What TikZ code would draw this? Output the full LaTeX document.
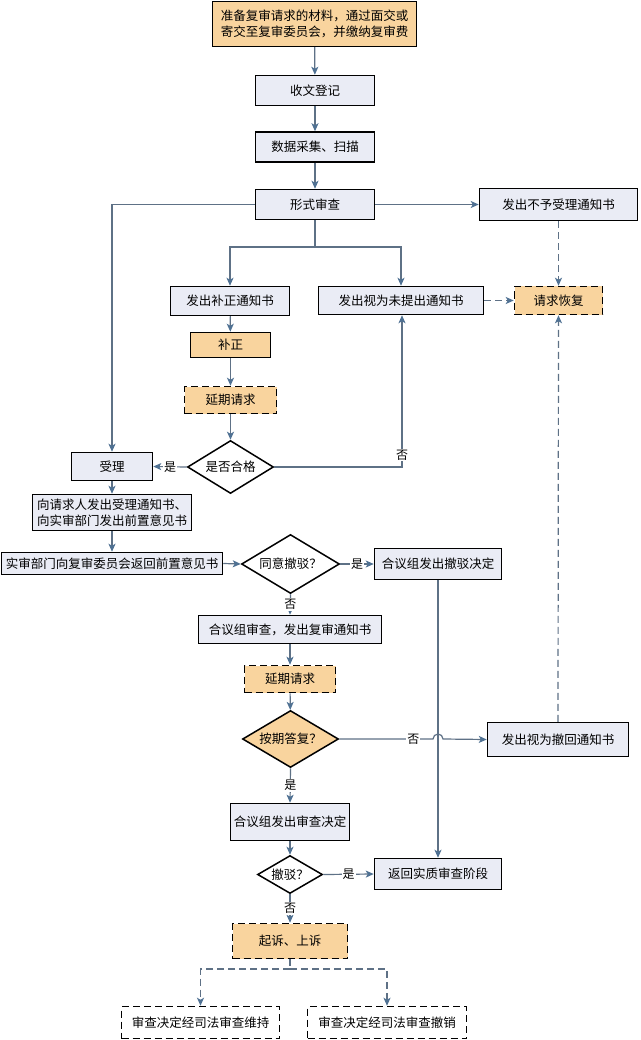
\documentclass[tikz,border=0pt]{standalone}
\usepackage{fontspec}
\setmainfont{Noto Sans CJK SC}
\usetikzlibrary{shapes.geometric,arrows.meta}
\definecolor{boxfill}{HTML}{EAECF5}
\definecolor{orfill}{HTML}{F9D49E}
\definecolor{lncol}{HTML}{5E7186}
\definecolor{tipcol}{HTML}{4F7193}
\begin{document}
\begin{tikzpicture}[x=1pt,y=-1pt,
  every node/.style={font=\fontsize{12.5}{15.5}\selectfont, inner sep=0pt},
  sz/.style 2 args={minimum width=#1pt, minimum height=#2pt},
  bx/.style={draw=black, line width=1.5pt, fill=boxfill, align=center},
  obx/.style={bx, fill=orfill},
  dbx/.style={obx, dash pattern=on 7pt off 4pt},
  wbx/.style={bx, fill=white, dash pattern=on 7pt off 4pt},
  dia/.style={shape=diamond, draw=black, line width=1.5pt, fill=white, aspect=1.6},
  odia/.style={dia, fill=orfill},
  ln/.style={draw=lncol, line width=1.2pt},
  arr/.style={ln, -{Stealth[length=8pt,width=7pt,inset=2pt,color=tipcol]}},
  darr/.style={arr, dash pattern=on 7pt off 4pt},
  dln/.style={ln, dash pattern=on 7pt off 4pt},
  lbl/.style={fill=white, inner sep=1pt, font=\fontsize{12}{14}\selectfont}
]
\fill[white] (0,0) rectangle (640,1040);
\useasboundingbox (0,0) rectangle (640,1040);

% nodes
\node[obx, sz={204}{45}] (top) at (314.5,24) {准备复审请求的材料，通过面交或\\寄交至复审委员会，并缴纳复审费};
\node[bx, sz={119}{30}] (reg) at (315,90.5) {收文登记};
\node[bx, sz={119}{30}] (scan) at (315,147) {数据采集、扫描};
\node[bx, sz={119}{30}] (form) at (315,204.5) {形式审查};
\node[bx, sz={158}{32}] (rej) at (558.5,204.5) {发出不予受理通知书};
\node[bx, sz={119}{29}] (bz) at (230,301) {发出补正通知书};
\node[bx, sz={165}{28}] (wtc) at (401,300.5) {发出视为未提出通知书};
\node[dbx, sz={88}{28}] (hf) at (558.5,300.5) {请求恢复};
\node[obx, sz={80}{25}] (buz) at (230.5,345) {补正};
\node[dbx, sz={92}{27}] (yq1) at (230.5,400) {延期请求};
\node[dia, sz={86}{53}] (d1) at (230.5,467) {是否合格};
\node[bx, sz={81}{28}] (sl) at (112,466.5) {受理};
\node[bx, sz={159}{36}, align=left] (tz) at (112,512.5) {向请求人发出受理通知书、\\向实审部门发出前置意见书};
\node[bx, sz={221}{22}] (fh) at (112,563.5) {实审部门向复审委员会返回前置意见书};
\node[dia, sz={98}{59}] (d2) at (290.5,564) {同意撤驳？};
\node[bx, sz={127}{31}] (cbjd) at (438,564) {合议组发出撤驳决定};
\node[bx, sz={183}{28}] (hysc) at (290,629.5) {合议组审查，发出复审通知书};
\node[dbx, sz={91}{27}] (yq2) at (290,679) {延期请求};
\node[odia, sz={96}{57}] (d3) at (290.5,739) {按期答复？};
\node[bx, sz={141}{34}] (ch) at (558,739.5) {发出视为撤回通知书};
\node[bx, sz={119}{37}] (jd) at (290,822) {合议组发出审查决定};
\node[dia, sz={65}{38}, aspect=1.7] (d4) at (290,874.5) {撤驳？};
\node[bx, sz={127}{31}] (fh2) at (438,874) {返回实质审查阶段};
\node[dbx, sz={115}{35}] (qs) at (290,941) {起诉、上诉};
\node[wbx, sz={158}{32}] (wc) at (200.5,1022.5) {审查决定经司法审查维持};
\node[wbx, sz={159}{32}] (cx) at (387,1022.5) {审查决定经司法审查撤销};

% helper coordinates
\coordinate (br1) at (315,247);
\coordinate (br2) at (290,969);
\coordinate (c1) at (402,467);
\coordinate (hopA) at (433,739);

% connectors
\draw[arr] (top) -- (reg);
\draw[arr] (reg) -- (scan);
\draw[arr] (scan) -- (form);
\draw[arr] (form.west) -| (sl.north);
\draw[arr] (form.east) -- (rej.west);
\draw[ln] (form.south) -- (br1);
\draw[arr] (br1) -| (bz.north);
\draw[arr] (br1) -| (wtc.north);
\draw[darr] (rej.south) -- (hf.north);
\draw[darr] (wtc.east) -- (hf.west);
\draw[arr] (bz) -- (buz);
\draw[arr] (buz) -- (yq1);
\draw[arr] (yq1) -- (d1);
\draw[arr] (d1.west) -- node[lbl]{是} (sl.east);
\draw[arr] (d1.east) -- (c1) -- node[lbl,pos=0.08]{否} (c1 |- wtc.south);
\draw[arr] (sl) -- (tz);
\draw[arr] (tz) -- (fh);
\draw[arr] (fh.east) -- (d2.west);
\draw[arr] (d2.east) -- node[lbl]{是} (cbjd.west);
\draw[arr] (d2.south) -- node[lbl]{否} (hysc.north);
\draw[arr] (hysc) -- (yq2);
\draw[arr] (yq2) -- (d3);
\draw[arr] (d3.east) -- node[lbl,pos=0.79]{否} (hopA) arc[start angle=180, end angle=360, radius=5] -- (ch.west);
\draw[darr] (ch.north) -- (hf.south);
\draw[arr] (d3.south) -- node[lbl]{是} (jd.north);
\draw[arr] (jd) -- (d4);
\draw[arr] (cbjd.south) -- (fh2.north);
\draw[arr] (d4.east) -- node[lbl]{是} (fh2.west);
\draw[arr] (d4.south) -- node[lbl]{否} (qs.north);
\draw[dln] (qs.south) -- (br2);
\draw[darr] (br2) -| (wc.north);
\draw[darr] (br2) -| (cx.north);
\end{tikzpicture}
\end{document}
